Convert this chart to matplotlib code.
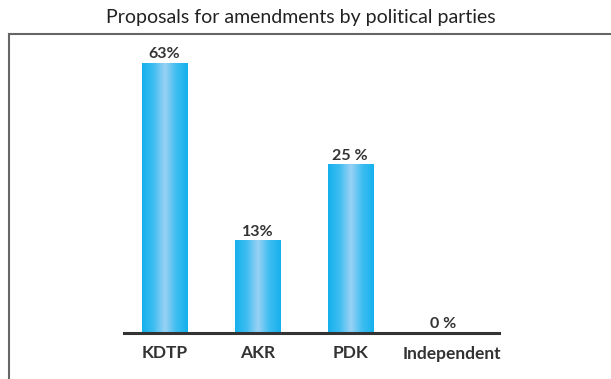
"""Proposals for amendments by political parties - bar chart with gradient bars."""

import numpy as np
import matplotlib.pyplot as plt
import matplotlib.transforms as mtransforms
from matplotlib.colors import LinearSegmentedColormap
from matplotlib.lines import Line2D

W, H = 611, 379

parties = ['KDTP', 'AKR', 'PDK', 'Independent']
bar_heights = [63, 21.6, 39.3, 0]
value_labels = ['63%', '13%', '25 %', '0 %']
title = 'Proposals for amendments by political parties'

plt.rcParams['font.family'] = ['Lato', 'DejaVu Sans']

fig = plt.figure(figsize=(W / 100, H / 100), dpi=100)
# axes placed in pixel terms: baseline at y=333, 63% top at y=62.7
ax = fig.add_axes([124 / W, (H - 333) / H, (499 - 124) / W, (333 - 62.7) / H])

cmap = LinearSegmentedColormap.from_list('barblue', ['#15b0ee', '#3dbdf0', '#9ad2f4', '#3dbdf0', '#15b0ee'])
grad = np.linspace(0, 1, 256).reshape(1, -1)

x = np.arange(len(parties))
bars = ax.bar(x, bar_heights, width=0.49, color='none', edgecolor='none')
for rect, lab in zip(bars, value_labels):
    x0, w, h = rect.get_x(), rect.get_width(), rect.get_height()
    if h > 0:
        ax.imshow(grad, extent=[x0, x0 + w, 0, h], aspect='auto', cmap=cmap,
                  interpolation='bicubic', zorder=2)
    ax.text(x0 + w / 2, h + 0.4, lab, ha='center', va='bottom', fontsize=11.5,
            fontweight='bold', color='#333333', clip_on=False)

ax.set_xlim(-0.435, 3.6)
ax.set_ylim(0, 63)

for s in ['top', 'right', 'left']:
    ax.spines[s].set_visible(False)
ax.spines['bottom'].set_linewidth(2.2)
ax.spines['bottom'].set_color('#333333')
ax.spines['bottom'].set_zorder(3)
ax.set_yticks([])
ax.set_xticks(x)
ax.set_xticklabels(parties, fontsize=12.5, fontweight='bold', color='#333333')
ax.tick_params(axis='x', length=0, pad=9)
# last label sits a little right of its slot in the original
lbl = ax.get_xticklabels()[-1]
lbl.set_transform(lbl.get_transform() + mtransforms.ScaledTranslation(9 / 100, 0, fig.dpi_scale_trans))

fig.text(301 / W, 1 - 18 / H, title, ha='center', va='center', fontsize=14, color='#222222')

# outer frame: top and left edges
fig.add_artist(Line2D([8.5 / W, 1], [1 - 34.3 / H] * 2, color='#666666', lw=1.5))
fig.add_artist(Line2D([8.5 / W] * 2, [0, 1 - 34.3 / H], color='#666666', lw=1.5))

fig.savefig('out.png', dpi=100)
